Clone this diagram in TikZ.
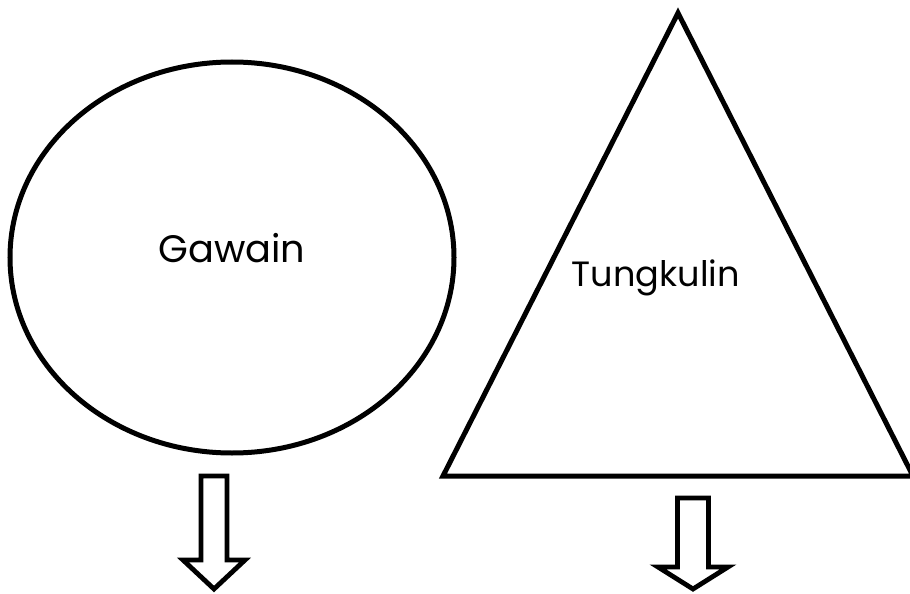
\documentclass[tikz,border=0pt]{standalone}
\usepackage{fontspec}
\setmainfont{Poppins}
\begin{document}
\begin{tikzpicture}[x=1pt,y=-1pt,
  shapeline/.style={draw=black,line width=5pt,line join=miter},
  arrowline/.style={draw=black,line width=4.8pt,line join=miter,fill=white},
  lbl/.style={inner sep=0pt,anchor=base,text=black}]
\useasboundingbox[fill=white] (0,0) rectangle (910,594);
% circle-like ellipse
\draw[shapeline] (232,257.5) ellipse [x radius=222pt, y radius=195.5pt];
\node[lbl] (gawain) at (232,262) {\resizebox{147pt}{!}{Gawain}};
% triangle
\coordinate (apex) at (678,13);
\coordinate (bl) at (443,476);
\coordinate (br) at (913,476);
\draw[shapeline] (apex) -- (bl) -- (br) -- cycle;
\node[lbl] (tungkulin) at (656,286) {\resizebox{168pt}{!}{Tungkulin}};
% block arrow 1
\draw[arrowline] (201,476) -- (227,476) -- (227,560) -- (245,560) -- (214,589)
  -- (183,560) -- (201,560) -- cycle;
% block arrow 2
\draw[arrowline] (677.5,498) -- (708.5,498) -- (708.5,567) -- (728,567) -- (693,589)
  -- (658,567) -- (677.5,567) -- cycle;
\end{tikzpicture}
\end{document}
